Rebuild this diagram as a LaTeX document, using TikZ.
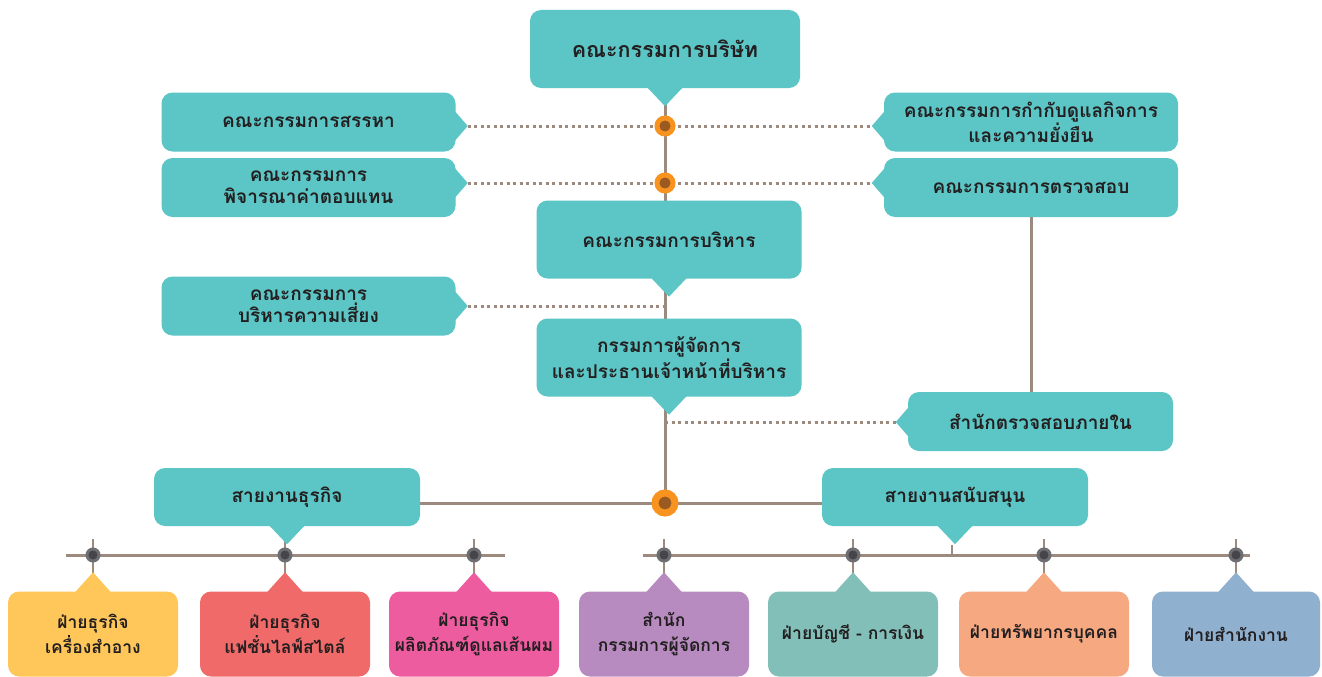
\documentclass[tikz,border=0pt]{standalone}
\usepackage{fontspec}
\newfontfamily\thai[Script=Thai]{Loma}
\definecolor{tealc}{HTML}{5CC5C5}
\definecolor{txt}{HTML}{231F20}
\definecolor{lc}{HTML}{9C8A7E}
\definecolor{orng}{HTML}{F7931E}
\definecolor{obrown}{HTML}{9B5A22}
\definecolor{gout}{HTML}{6E6E72}
\definecolor{gin}{HTML}{46464A}
\definecolor{cyel}{HTML}{FFC75A}
\definecolor{cred}{HTML}{F06A6A}
\definecolor{cpink}{HTML}{EE5CA0}
\definecolor{cpur}{HTML}{B78BBF}
\definecolor{cgrn}{HTML}{82BFB8}
\definecolor{csal}{HTML}{F6A880}
\definecolor{cblu}{HTML}{8FB0CF}
\pgfdeclarelayer{bg}
\pgfsetlayers{bg,main}
\newcommand\ptrD[2]{\fill[#2] ([xshift=-18pt,yshift=1pt]#1) -- ([xshift=18pt,yshift=1pt]#1) -- ([yshift=-18pt]#1) -- cycle;}
\newcommand\ptrU[2]{\fill[#2] ([xshift=-18pt,yshift=-1pt]#1) -- ([xshift=18pt,yshift=-1pt]#1) -- ([yshift=19pt]#1) -- cycle;}
\newcommand\ptrR[2]{\fill[#2] ([xshift=-1pt,yshift=15pt]#1) -- ([xshift=-1pt,yshift=-15pt]#1) -- ([xshift=12pt]#1) -- cycle;}
\newcommand\ptrL[2]{\fill[#2] ([xshift=1pt,yshift=15pt]#1) -- ([xshift=1pt,yshift=-15pt]#1) -- ([xshift=-12pt]#1) -- cycle;}
\begin{document}
\begin{tikzpicture}[x=1pt,y=-1pt,
  box/.style={fill=tealc, rounded corners=11pt, inner sep=0pt, align=center, text=txt,
    font=\thai\bfseries\fontsize{19}{22}\selectfont},
  sbox/.style={box, minimum width=294pt, minimum height=59pt},
  cbox/.style={box, minimum width=265pt, minimum height=78pt},
  bbox/.style={box, minimum width=170pt, minimum height=85pt, font=\thai\bfseries\fontsize{17.5}{25}\selectfont},
  ln/.style={draw=lc, line width=3pt},
  tick/.style={draw=lc, line width=2pt},
  dots/.style={draw=lc, line width=3pt, dash pattern=on 3pt off 3.5pt},
  odot/.style={circle, fill=obrown, draw=orng, line width=5pt, minimum size=16pt, inner sep=0pt},
  bigdot/.style={circle, fill=obrown, draw=orng, line width=7pt, minimum size=20pt, inner sep=0pt},
  gdot/.style={circle, fill=gin, draw=gout, line width=3pt, minimum size=12pt, inner sep=0pt}]
\useasboundingbox (0,0) rectangle (1322,677);
\begin{pgfonlayer}{bg}
\fill[white] (0,0) rectangle (1322,677);
\end{pgfonlayer}
% boxes
\node[box, minimum width=270pt, minimum height=78pt, font=\thai\bfseries\fontsize{21.5}{25}\selectfont] (top) at (665,49) {คณะกรรมการบริษัท};
\node[sbox] (lb1) at (308.5,122) {คณะกรรมการสรรหา};
\node[sbox] (lb2) at (308.5,187.5) {คณะกรรมการ\\พิจารณาค่าตอบแทน};
\node[sbox] (rb1) at (1031,122) {คณะกรรมการกำกับดูแลกิจการ\\และความยั่งยืน};
\node[sbox] (rb2) at (1031,187.5) {คณะกรรมการตรวจสอบ};
\node[cbox] (exe) at (669,239.5) {คณะกรรมการบริหาร};
\node[sbox] (lb3) at (308.5,306) {คณะกรรมการ\\บริหารความเสี่ยง};
\node[cbox] (md) at (669,357.5) {กรรมการผู้จัดการ\\และประธานเจ้าหน้าที่บริหาร};
\node[box, minimum width=265pt, minimum height=59pt] (aud) at (1040.5,421.5) {สำนักตรวจสอบภายใน};
\node[box, minimum width=266pt, minimum height=58pt] (biz) at (287,497) {สายงานธุรกิจ};
\node[box, minimum width=266pt, minimum height=58pt] (sup) at (955,497) {สายงานสนับสนุน};
% coordinates
\coordinate (d1) at (665,126);
\coordinate (d2) at (665,183);
\coordinate (m3) at (665,306);
\coordinate (m4) at (665,422);
\coordinate (bd) at (665,503);
\coordinate (L1) at (66,555);
\coordinate (L2) at (505,555);
\coordinate (R1) at (643,555);
\coordinate (R2) at (1250,555);
\foreach \i/\x in {1/93,2/285,3/474,4/664,5/853,6/1044,7/1236}{
  \coordinate (g\i) at (\x,555);
  \coordinate (t\i) at (\x,539);
  \coordinate (u\i) at (\x,576);
}
\coordinate (stip) at (952,545);
\coordinate (p1) at (lb1.east |- d1);
\coordinate (p2) at (lb2.east |- d2);
\coordinate (p3) at (rb1.west |- d1);
\coordinate (p4) at (rb2.west |- d2);
\coordinate (p5) at (lb3.east |- m3);
\coordinate (p6) at (aud.west |- m4);
% lines
\begin{pgfonlayer}{bg}
\draw[ln] (top.south) -- (bd);
\draw[ln] (rb2.south) -- (rb2.south |- aud.north);
\draw[ln] (biz.east |- bd) -- (sup.west |- bd);
\draw[ln] (L1) -- (L2);
\draw[ln] (R1) -- (R2);
\draw[tick] (stip) -- (stip |- R1);
\foreach \i in {1,...,7}{\draw[tick] (t\i) -- (u\i);}
\draw[dots] ([xshift=12pt]p1) -- (d1);
\draw[dots] (d1) -- ([xshift=-12pt]p3);
\draw[dots] ([xshift=12pt]p2) -- (d2);
\draw[dots] (d2) -- ([xshift=-12pt]p4);
\draw[dots] ([xshift=12pt]p5) -- (m3);
\draw[dots] (m4) -- ([xshift=-12pt]p6);
\end{pgfonlayer}
% pointers
\ptrD{top.south}{tealc}
\ptrD{exe.south}{tealc}
\ptrD{md.south}{tealc}
\ptrD{biz.south}{tealc}
\ptrD{sup.south}{tealc}
\ptrR{p1}{tealc}
\ptrR{p2}{tealc}
\ptrR{p5}{tealc}
\ptrL{p3}{tealc}
\ptrL{p4}{tealc}
\ptrL{p6}{tealc}
% bottom boxes
\node[bbox, fill=cyel] (b1) at (93,634) {ฝ่ายธุรกิจ\\เครื่องสำอาง};
\node[bbox, fill=cred] (b2) at (285,634) {ฝ่ายธุรกิจ\\แฟชั่นไลฟ์สไตล์};
\node[bbox, fill=cpink] (b3) at (474,634) {ฝ่ายธุรกิจ\\ผลิตภัณฑ์ดูแลเส้นผม};
\node[bbox, fill=cpur] (b4) at (664,634) {สำนัก\\กรรมการผู้จัดการ};
\node[bbox, fill=cgrn] (b5) at (853,634) {ฝ่ายบัญชี - การเงิน};
\node[bbox, fill=csal] (b6) at (1044,634) {ฝ่ายทรัพยากรบุคคล};
\node[bbox, fill=cblu, minimum width=168pt] (b7) at (1236,634) {ฝ่ายสำนักงาน};
\ptrU{b1.north}{cyel}
\ptrU{b2.north}{cred}
\ptrU{b3.north}{cpink}
\ptrU{b4.north}{cpur}
\ptrU{b5.north}{cgrn}
\ptrU{b6.north}{csal}
\ptrU{b7.north}{cblu}
% dots
\node[odot] (o1) at (d1) {};
\node[odot] (o2) at (d2) {};
\node[bigdot] (o3) at (bd) {};
\foreach \i in {1,...,7}{\node[gdot] (gd\i) at (g\i) {};}
\end{tikzpicture}
\end{document}
